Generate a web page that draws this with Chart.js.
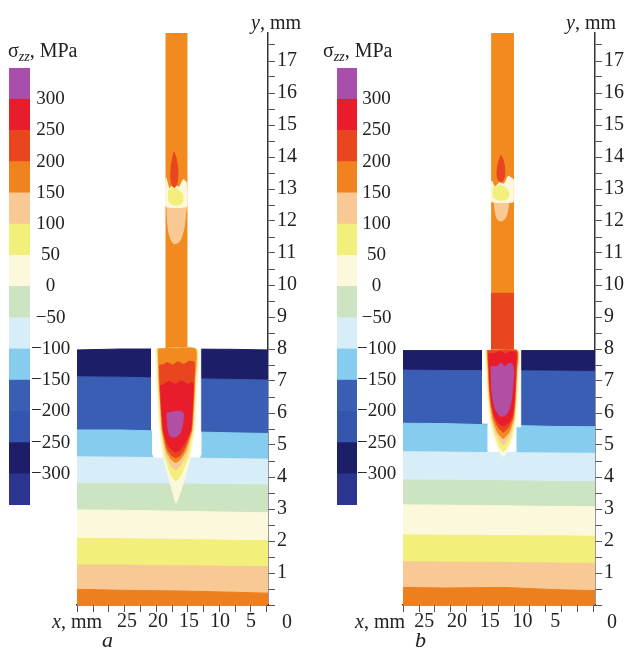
<!DOCTYPE html>
<html><head><meta charset="utf-8">
<script src="https://cdn.jsdelivr.net/npm/chart.js@4.4.1/dist/chart.umd.min.js"></script>
<style>
html,body{margin:0;padding:0;background:#fff;}
#wrap{position:relative;width:630px;height:659px;overflow:hidden;font-family:"Liberation Serif","Times New Roman",serif;color:#222;}
canvas{position:absolute;top:0;}
.t{position:absolute;font-size:20px;line-height:1;white-space:nowrap;}
.t sub{font-size:14px;font-style:italic;vertical-align:-4px;line-height:1;}
.it{font-style:italic;}
</style></head><body>
<div id="wrap">
<canvas id="cbA" width="80" height="659" style="left:0px"></canvas>
<canvas id="mainA" width="260" height="659" style="left:70px"></canvas>
<canvas id="cbB" width="80" height="659" style="left:320px"></canvas>
<canvas id="mainB" width="235" height="659" style="left:395px"></canvas>
<div class="t" style="left:8px;top:40px">σ<sub>zz</sub>, MPa</div>
<div class="t" style="left:323px;top:40px">σ<sub>zz</sub>, MPa</div>
<div class="t" style="left:251px;top:12px"><span class="it">y</span>, mm</div>
<div class="t" style="left:566px;top:12px"><span class="it">y</span>, mm</div>
<div class="t" style="left:52px;top:611px"><span class="it">x</span>, mm</div>
<div class="t" style="left:355px;top:611px"><span class="it">x</span>, mm</div>
<div class="t" style="left:282px;top:611px">0</div>
<div class="t" style="left:607px;top:611px">0</div>
<div class="t it" style="left:102px;top:629px;font-size:22px">a</div>
<div class="t it" style="left:415px;top:629px;font-size:22px">b</div>
</div>
<script>
// ---------- colour scale (σzz, MPa) ----------
const levelBounds = [-350,-300,-250,-200,-150,-100,-50,0,50,100,150,200,250,300,350];
const colorbarTicks = [-300,-250,-200,-150,-100,-50,0,50,100,150,200,250,300];
const levelColors = ['#2b3590','#1c1e68','#3556ae','#3a5eb4','#86ccef','#d7edf7','#cde4c3',
                     '#fbf8dc','#f2ef7a','#f9c995','#f0821f','#e9461f','#e81c2b','#a84fab'];

// ---------- axis labels ----------
const yTickLabels = [1,2,3,4,5,6,7,8,9,10,11,12,13,14,15,16,17];
const xTickLabels = [5,10,15,20,25];

// ---------- panel a : plate bands (x, mm ; boundary y, mm) ----------
const bandXA      = [33.06, 26, 17, 8, 2.26];
const plateTopA   = [7.97, 8.0, 8.0, 7.99, 7.97];
const blueTopA    = [7.13, 7.12, 7.08, 7.05, 7.03];
const ltBlueTopA  = [5.47, 5.47, 5.42, 5.38, 5.36];
const vlBlueTopA  = [4.63, 4.62, 4.60, 4.57, 4.56];
const greenTopA   = [3.80, 3.80, 3.78, 3.76, 3.75];
const creamTopA   = [2.97, 2.96, 2.93, 2.90, 2.88];
const yellowTopA  = [2.08, 2.07, 2.05, 2.02, 2.01];
const peachTopA   = [1.25, 1.25, 1.23, 1.21, 1.20];
const orangeTopA  = [0.49, 0.46, 0.44, 0.40, 0.37];

// panel a : groove, rod and weld zone outlines [x, y]
const grooveA = [[21.02,8.05],[21.02,5.47],[20.85,5.42],[20.85,4.72],[20.65,4.62],[13.25,4.62],[13.06,4.72],[13.06,5.36],[13.11,5.40],[13.11,8.05]];
const rodA = [[18.71,7.9],[18.71,18.5],[15.37,18.5],[15.37,7.9]];
const vCreamA = [[20.40,8.0],[20.24,7.03],[20.11,6.51],[19.79,5.47],[19.15,4.63],[18.18,3.91],[17.50,3.44],[17.10,3.18],[16.55,3.44],[15.75,3.91],[14.78,4.63],[14.08,5.47],[13.78,6.51],[13.65,7.03],[13.55,8.0]];
const vYellowA = [[20.18,8.0],[20.02,7.03],[19.89,6.51],[19.56,5.47],[18.88,4.63],[17.85,4.05],[17.12,3.88],[16.35,4.05],[15.12,4.63],[14.32,5.47],[14.00,6.51],[13.87,7.03],[13.77,8.0]];
const vPeachA = [[20.05,8.0],[19.90,7.03],[19.76,6.51],[19.42,5.47],[18.70,4.70],[17.90,4.35],[17.12,4.22],[16.40,4.35],[15.45,4.70],[14.45,5.47],[14.12,6.51],[14.00,7.03],[13.90,8.0]];
const vOrangeA = [[19.95,8.0],[19.80,7.03],[19.66,6.51],[19.30,5.47],[18.60,4.80],[17.85,4.55],[17.12,4.45],[16.40,4.55],[15.60,4.80],[14.55,5.47],[14.22,6.51],[14.10,7.03],[14.00,8.0]];
const vRedOrangeA = [[19.75,7.50],[19.70,7.03],[19.58,6.51],[19.20,5.47],[18.55,4.90],[17.80,4.67],[17.12,4.60],[16.45,4.67],[15.70,4.90],[14.65,5.47],[14.30,6.51],[14.20,7.03],[14.15,7.58],[15.00,7.62],[15.80,7.52],[16.80,7.60],[17.60,7.50],[18.50,7.58],[19.20,7.50]];
const vRedA = [[19.60,6.85],[19.50,6.51],[19.12,5.47],[18.50,5.05],[17.80,4.85],[17.12,4.78],[16.45,4.85],[15.75,5.05],[14.75,5.47],[14.40,6.51],[14.35,6.95],[15.20,6.90],[16.20,7.00],[17.20,6.90],[18.30,6.98],[19.10,6.88]];
const vPurpleA = [[18.55,6.00],[18.45,5.60],[18.10,5.30],[17.30,5.25],[16.50,5.35],[16.00,5.70],[15.95,6.00],[16.60,6.06],[17.60,6.03]];
const rodPeachA = [[18.55,12.60],[18.50,12.10],[18.20,11.60],[17.50,11.30],[16.60,11.35],[15.90,11.70],[15.55,12.20],[15.60,12.60]];
const rodCreamA = [[18.71,13.35],[18.20,13.00],[17.50,13.15],[16.60,13.05],[15.90,13.30],[15.37,13.20],[15.37,12.45],[18.71,12.45]];
const rodYellowA = [[18.30,12.95],[17.50,13.05],[16.60,12.95],[16.00,12.80],[16.20,12.55],[17.30,12.50],[18.20,12.60]];
const rodHotA = [[17.40,14.15],[17.75,13.85],[17.95,13.45],[17.75,13.12],[17.30,13.05],[16.90,13.20],[16.80,13.60],[17.05,13.95]];

// ---------- panel b : plate bands ----------
const bandXB      = [28.24, 22, 13, 5, -1.07];
const plateTopB   = [7.95, 7.95, 7.95, 7.95, 7.95];
const blueTopB    = [7.34, 7.33, 7.32, 7.31, 7.30];
const ltBlueTopB  = [5.68, 5.67, 5.62, 5.58, 5.57];
const vlBlueTopB  = [4.79, 4.78, 4.76, 4.75, 4.74];
const greenTopB   = [3.91, 3.90, 3.88, 3.86, 3.85];
const creamTopB   = [3.13, 3.12, 3.10, 3.08, 3.07];
const yellowTopB  = [2.19, 2.18, 2.17, 2.16, 2.15];
const peachTopB   = [1.35, 1.34, 1.33, 1.31, 1.30];
const orangeTopB  = [0.55, 0.53, 0.55, 0.48, 0.45];

const grooveB = [[16.08,8.0],[16.08,5.68],[15.22,5.68],[15.22,4.79],[10.99,4.79],[10.99,5.57],[10.27,5.57],[10.27,8.0]];
const rodB = [[14.70,7.9],[14.70,18.5],[11.40,18.5],[11.40,7.9]];
const rodLowB = [[14.70,9.74],[14.70,7.8],[11.40,7.8],[11.40,9.74]];
const vCreamB = [[15.80,7.95],[15.60,7.30],[15.50,6.82],[15.30,6.30],[15.05,5.78],[14.46,5.26],[13.69,4.84],[12.93,4.63],[12.17,4.84],[11.40,5.26],[10.99,5.78],[10.75,6.30],[10.60,6.82],[10.50,7.30],[10.45,7.95]];
const vYellowB = [[15.55,7.95],[15.38,7.30],[15.28,6.82],[15.08,6.30],[14.80,5.78],[14.20,5.30],[13.55,4.95],[12.93,4.80],[12.30,4.95],[11.65,5.30],[11.20,5.78],[10.97,6.30],[10.83,6.82],[10.72,7.30],[10.65,7.95]];
const vPeachB = [[15.45,7.95],[15.28,7.30],[15.18,6.82],[14.97,6.30],[14.65,5.80],[14.00,5.35],[12.93,5.00],[11.85,5.35],[11.30,5.80],[11.08,6.30],[10.93,6.82],[10.82,7.30],[10.75,7.95]];
const vOrangeB = [[15.35,7.95],[15.20,7.30],[15.10,6.82],[14.88,6.30],[14.50,5.80],[13.80,5.40],[12.93,5.20],[12.05,5.40],[11.40,5.80],[11.15,6.30],[11.02,6.82],[10.92,7.30],[10.85,7.95]];
const vRedOrangeB = [[15.28,7.95],[15.12,7.30],[15.02,6.82],[14.80,6.30],[14.35,5.85],[13.70,5.55],[12.93,5.40],[12.15,5.55],[11.50,5.85],[11.22,6.30],[11.08,6.82],[10.98,7.30],[10.92,7.95]];
const vRedB = [[15.15,7.85],[15.05,7.30],[14.95,6.82],[14.70,6.30],[14.25,5.90],[13.65,5.68],[12.93,5.60],[12.20,5.68],[11.60,5.90],[11.30,6.30],[11.15,6.82],[11.05,7.30],[11.00,7.88],[11.80,7.92],[12.60,7.85],[13.40,7.93],[14.30,7.86]];
const vPurpleB = [[14.80,7.45],[14.75,7.00],[14.55,6.50],[14.10,6.10],[13.30,5.90],[12.50,5.95],[11.85,6.25],[11.50,6.80],[11.35,7.30],[11.50,7.50],[12.10,7.55],[12.70,7.45],[13.30,7.55],[14.00,7.45]];
const rodPeachB = [[14.30,12.70],[14.20,12.35],[13.80,12.05],[13.20,12.00],[12.60,12.10],[12.20,12.40],[12.20,12.70]];
const rodCreamB = [[14.70,13.25],[14.20,13.05],[13.50,13.20],[12.80,13.15],[12.20,13.40],[11.40,13.30],[11.40,12.60],[14.70,12.60]];
const rodYellowB = [[14.50,13.05],[13.60,13.10],[12.60,13.05],[12.10,12.90],[12.30,12.70],[13.50,12.65],[14.40,12.75]];
const rodHotB = [[13.30,14.05],[13.70,13.80],[13.90,13.50],[13.70,13.28],[13.20,13.22],[12.80,13.35],[12.70,13.60],[12.95,13.90]];

// ---------- styles ----------
const C = {navy:'#1c1e68', blue:'#3a5eb4', ltBlue:'#86ccef', vlBlue:'#d7edf7', green:'#cde4c3',
  cream:'#fbf8dc', yellow:'#f2ef7a', peach:'#f9c995', orange:'#ee7f1e', rod:'#f28b1f',
  redOrange:'#e9461f', red:'#e81c2b', purple:'#b04fa3', white:'#ffffff'};
const AXIS = '#333';
const FONT = '"Liberation Serif", "Times New Roman", serif';
Chart.defaults.font.family = FONT;
Chart.defaults.color = '#222';

function closed(p){ return p.concat([p[0]]); }
function band(xs, tops){
  return closed([[xs[0],0]].concat(xs.map((x,i)=>[x,tops[i]]), [[xs[xs.length-1],0]]));
}
const fmt = v => (v < 0 ? '\u2212' + Math.abs(v) : String(v));

function makeColorbar(id, padLeft, axisWidth, tickPad){
  const ds = levelColors.map((c,i)=>({
    data: [[levelBounds[i], levelBounds[i+1]]], backgroundColor: c, borderWidth: 0,
    barPercentage: 1, categoryPercentage: 1, grouped: false
  }));
  ds.push({data: [[levelBounds[0], levelBounds[levelBounds.length-1]]], backgroundColor: 'rgba(0,0,0,0)',
    borderColor: '#4b3f8f', borderWidth: 1.5, borderSkipped: false,
    barPercentage: 1, categoryPercentage: 1, grouped: false});
  new Chart(document.getElementById(id), {
    type: 'bar',
    data: {labels: [''], datasets: ds},
    options: {
      responsive: false, animation: false, events: [],
      layout: {padding: {left: padLeft, top: 68, bottom: 154, right: 0}},
      plugins: {legend: {display: false}, tooltip: {enabled: false}},
      scales: {
        x: {display: false},
        y: {position: 'right', min: levelBounds[0], max: levelBounds[levelBounds.length-1],
          grid: {display: false, drawTicks: false}, border: {display: false},
          ticks: {stepSize: 50, autoSkip: false, includeBounds: false, crossAlign: 'center', padding: tickPad,
            font: {size: 19, family: FONT}, color: '#222',
            callback: v => colorbarTicks.includes(v) ? fmt(v) : ''},
          afterFit: s => { s.width = axisWidth; }}
      }
    }
  });
}

function makeMain(id, layers, ax){
  const n = layers.length;
  const datasets = layers.map((L,i)=>({
    data: L.closed ? L.p : closed(L.p), backgroundColor: L.c, borderColor: L.c, borderWidth: 1,
    fill: 'shape', tension: L.t || 0, pointRadius: 0, pointHoverRadius: 0, order: n - i
  }));
  new Chart(document.getElementById(id), {
    type: 'line',
    data: {datasets},
    options: {
      responsive: false, animation: false, events: [],
      layout: {padding: {left: ax.padLeft, top: 33, right: 0, bottom: 0}},
      plugins: {legend: {display: false}, tooltip: {enabled: false}},
      scales: {
        x: {type: 'linear', reverse: true, min: ax.xMin, max: ax.xMax, position: 'bottom', weight: 1,
          grid: {display: false, drawTicks: false}, border: {display: false},
          ticks: {stepSize: 5, autoSkip: false, includeBounds: false, maxRotation: 0, padding: 1,
            font: {size: 20, family: FONT}, color: '#222',
            callback: v => xTickLabels.includes(v) ? String(v) : ''},
          afterFit: s => { s.height = 50; }},
        xt: {type: 'linear', reverse: true, min: ax.tMin, max: ax.tMax, position: 'bottom', weight: 0,
          grid: {display: true, drawOnChartArea: false, drawTicks: true, tickLength: 7, color: '#555', lineWidth: 1},
          border: {display: true, color: AXIS, width: 1.5},
          ticks: {display: false, stepSize: 2.5, autoSkip: false, includeBounds: false},
          afterFit: s => { s.height = 4; }},
        y: {type: 'linear', position: 'right', min: 0, max: 17.875,
          grid: {display: true, drawOnChartArea: false, drawTicks: true, tickLength: 7, color: '#555', lineWidth: 1},
          border: {display: true, color: AXIS, width: 1.5},
          ticks: {stepSize: 0.5, autoSkip: false, includeBounds: false, padding: 2,
            font: {size: 20, family: FONT}, color: '#222',
            callback: v => yTickLabels.includes(v) ? String(v) : ''},
          afterFit: s => { s.width = ax.yWidth; }}
      }
    }
  });
}

const layersA = [
  {p: band(bandXA, plateTopA), c: C.navy, closed: true},
  {p: band(bandXA, blueTopA), c: C.blue, closed: true},
  {p: band(bandXA, ltBlueTopA), c: C.ltBlue, closed: true},
  {p: band(bandXA, vlBlueTopA), c: C.vlBlue, closed: true},
  {p: band(bandXA, greenTopA), c: C.green, closed: true},
  {p: band(bandXA, creamTopA), c: C.cream, closed: true},
  {p: band(bandXA, yellowTopA), c: C.yellow, closed: true},
  {p: band(bandXA, peachTopA), c: C.peach, closed: true},
  {p: band(bandXA, orangeTopA), c: C.orange, closed: true},
  {p: grooveA, c: C.white},
  {p: rodA, c: C.rod},
  {p: vCreamA, c: C.cream, t: 0.15},
  {p: vYellowA, c: C.yellow, t: 0.15},
  {p: vPeachA, c: C.peach, t: 0.15},
  {p: vOrangeA, c: C.rod, t: 0.15},
  {p: vRedOrangeA, c: C.redOrange, t: 0.15},
  {p: vRedA, c: C.red, t: 0.15},
  {p: vPurpleA, c: C.purple, t: 0.3},
  {p: rodPeachA, c: C.peach, t: 0.3},
  {p: rodCreamA, c: C.cream, t: 0.1},
  {p: rodYellowA, c: C.yellow, t: 0.3},
  {p: rodHotA, c: C.redOrange, t: 0.3}
];
const layersB = [
  {p: band(bandXB, plateTopB), c: C.navy, closed: true},
  {p: band(bandXB, blueTopB), c: C.blue, closed: true},
  {p: band(bandXB, ltBlueTopB), c: C.ltBlue, closed: true},
  {p: band(bandXB, vlBlueTopB), c: C.vlBlue, closed: true},
  {p: band(bandXB, greenTopB), c: C.green, closed: true},
  {p: band(bandXB, creamTopB), c: C.cream, closed: true},
  {p: band(bandXB, yellowTopB), c: C.yellow, closed: true},
  {p: band(bandXB, peachTopB), c: C.peach, closed: true},
  {p: band(bandXB, orangeTopB), c: C.orange, closed: true},
  {p: grooveB, c: C.white},
  {p: rodB, c: C.rod},
  {p: rodLowB, c: C.redOrange},
  {p: vCreamB, c: C.cream, t: 0.15},
  {p: vYellowB, c: C.yellow, t: 0.15},
  {p: vPeachB, c: C.peach, t: 0.15},
  {p: vOrangeB, c: C.rod, t: 0.15},
  {p: vRedOrangeB, c: C.redOrange, t: 0.15},
  {p: vRedB, c: C.red, t: 0.15},
  {p: vPurpleB, c: C.purple, t: 0.3},
  {p: rodPeachB, c: C.peach, t: 0.3},
  {p: rodCreamB, c: C.cream, t: 0.1},
  {p: rodYellowB, c: C.yellow, t: 0.3},
  {p: rodHotB, c: C.redOrange, t: 0.3}
];

makeColorbar('cbA', 9, 50, 1);
makeColorbar('cbB', 17, 43, 0);
makeMain('mainA', layersA, {padLeft: 7, yWidth: 62, xMin: 2.26, xMax: 33.06, tMin: -0.2, tMax: 30.05});
makeMain('mainB', layersB, {padLeft: 8, yWidth: 35, xMin: -1.07, xMax: 28.24, tMin: -0.27, tMax: 30.05});
</script>
</body></html>
